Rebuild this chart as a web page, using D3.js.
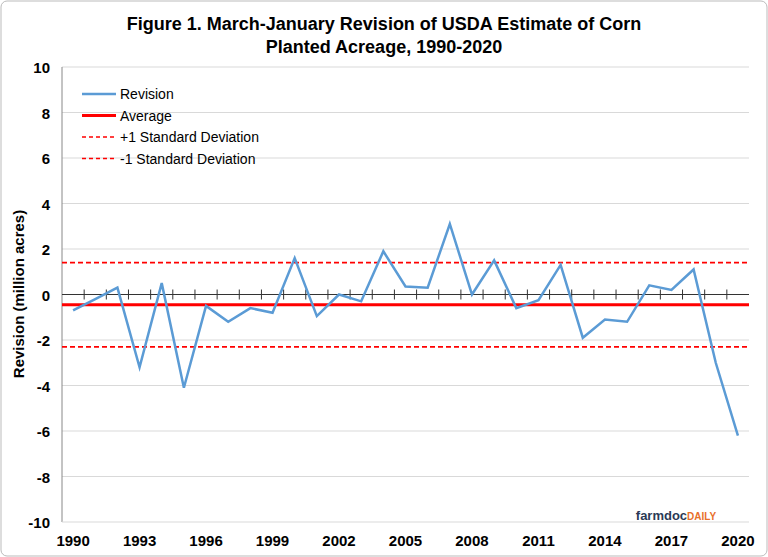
<!DOCTYPE html><html><head><meta charset="utf-8"><script src="https://cdn.jsdelivr.net/npm/d3@7"></script>
<style>body{margin:0;background:#fff}svg{font-family:"Liberation Sans",Arial,sans-serif}</style></head><body><svg id="c" width="768" height="557"></svg><script>
const years=d3.range(1990,2021);
const revision=[-0.7,-0.2,0.3,-3.2,0.5,-4.1,-0.5,-1.2,-0.6,-0.8,1.6,-0.95,0.0,-0.3,1.9,0.35,0.3,3.1,0.0,1.5,-0.6,-0.25,1.3,-1.9,-1.1,-1.2,0.4,0.2,1.1,-3.0,-6.2];
const average=-0.45, plusSD=1.4, minusSD=-2.3;
const yTicks=[-10,-8,-6,-4,-2,0,2,4,6,8,10];
const xLabels=[1990,1993,1996,1999,2002,2005,2008,2011,2014,2017,2020];
const svg=d3.select("#c");
svg.append("rect").attr("x",1).attr("y",1).attr("width",766).attr("height",555).attr("rx",6).attr("fill","#fff").attr("stroke","#bbb");
const x=d3.scaleBand().domain(years).range([62,749]);
const y=d3.scaleLinear().domain([-10,10]).range([522,67]);
const cx=d=>x(d)+x.bandwidth()/2;
svg.append("g").selectAll("line").data(yTicks.filter(t=>t!==-10)).join("line").attr("x1",62).attr("x2",749).attr("y1",d=>y(d)).attr("y2",d=>y(d)).attr("stroke","#d9d9d9");
svg.append("line").attr("x1",62).attr("x2",62).attr("y1",67).attr("y2",522).attr("stroke","#888");
svg.append("line").attr("x1",62).attr("x2",749).attr("y1",522).attr("y2",522).attr("stroke","#d9d9d9");
svg.append("line").attr("x1",62).attr("x2",749).attr("y1",y(0)).attr("y2",y(0)).attr("stroke","#333");
svg.append("g").selectAll("line").data(years.slice(1)).join("line").attr("x1",d=>x(d)).attr("x2",d=>x(d)).attr("y1",y(0)-5).attr("y2",y(0)+5).attr("stroke","#333");
svg.append("g").selectAll("text").data(yTicks).join("text").attr("x",50).attr("y",d=>y(d)+6).attr("text-anchor","end").attr("font-size",15).attr("font-weight","bold").text(d=>d);
svg.append("g").selectAll("text").data(xLabels).join("text").attr("x",d=>cx(d)).attr("y",546).attr("text-anchor","middle").attr("font-size",15).attr("font-weight","bold").text(d=>d);
const hl=(v,dash,w)=>svg.append("line").attr("x1",62).attr("x2",749).attr("y1",y(v)).attr("y2",y(v)).attr("stroke","#f00").attr("stroke-width",w).attr("stroke-dasharray",dash);
hl(plusSD,"5,3",1.6);hl(minusSD,"5,3",1.6);hl(average,null,3);
svg.append("path").datum(revision).attr("fill","none").attr("stroke","#5b9bd5").attr("stroke-width",2.5).attr("d",d3.line().x((d,i)=>cx(years[i])).y(d=>y(d)));
const leg=[["Revision","#5b9bd5",null,2.5],["Average","#f00",null,3],["+1 Standard Deviation","#f00","4,3",1.6],["-1 Standard Deviation","#f00","4,3",1.6]];
leg.forEach((l,i)=>{const yy=94+i*21.5;svg.append("line").attr("x1",82).attr("x2",116).attr("y1",yy).attr("y2",yy).attr("stroke",l[1]).attr("stroke-width",l[3]).attr("stroke-dasharray",l[2]);svg.append("text").attr("x",120).attr("y",yy+5).attr("font-size",14).text(l[0]);});
svg.append("text").attr("x",384).attr("y",30).attr("text-anchor","middle").attr("font-size",18).attr("font-weight","bold").text("Figure 1. March-January Revision of USDA Estimate of Corn");
svg.append("text").attr("x",384).attr("y",53).attr("text-anchor","middle").attr("font-size",18).attr("font-weight","bold").text("Planted Acreage, 1990-2020");
svg.append("text").attr("transform","translate(24,294) rotate(-90)").attr("text-anchor","middle").attr("font-size",15).attr("font-weight","bold").text("Revision (million acres)");
const lg=svg.append("text").attr("x",676).attr("y",520).attr("text-anchor","middle").attr("font-size",13).attr("font-weight","bold");
lg.append("tspan").attr("fill","#2b3a55").text("farmdoc");lg.append("tspan").attr("fill","#e8702a").attr("font-size",10).text("DAILY");
</script></body></html>
